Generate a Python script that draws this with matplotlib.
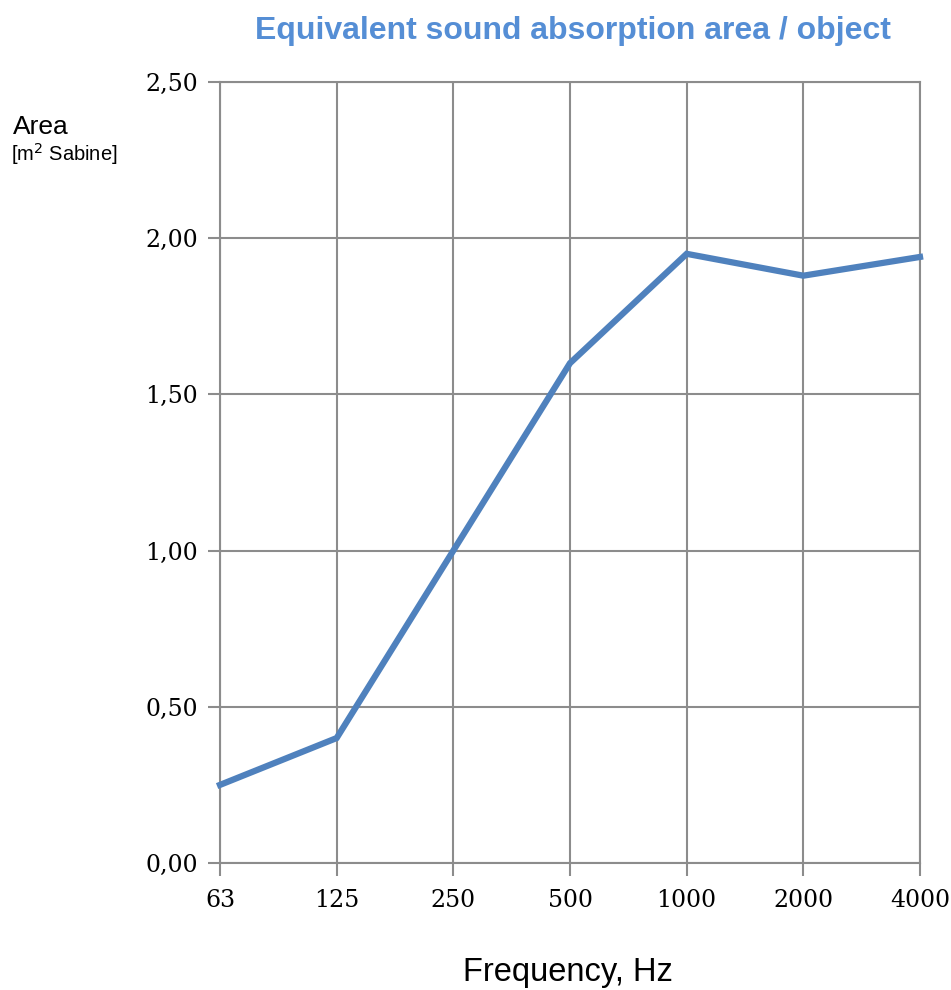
import matplotlib
matplotlib.use('Agg')
import matplotlib.pyplot as plt

# data
freqs = ['63', '125', '250', '500', '1000', '2000', '4000']
area = [0.25, 0.40, 1.00, 1.60, 1.95, 1.88, 1.94]
yticks = [0.0, 0.5, 1.0, 1.5, 2.0, 2.5]

LINE = '#4f81bd'
GRID = '#8c8c8c'
TITLE = '#558ed5'

fig = plt.figure(figsize=(9.51, 9.9), dpi=100)
ax = fig.add_axes([220 / 951, 1 - 863 / 990, 700 / 951, (863 - 82) / 990])

x = list(range(len(freqs)))
ax.plot(x, area, color=LINE, lw=4.5, solid_joinstyle='miter', zorder=3, clip_on=False)

ax.set_xlim(0, len(freqs) - 1)
ax.set_ylim(0, 2.5)
ax.set_xticks(x)
ax.set_xticklabels(freqs)
ax.set_yticks(yticks)
ax.set_yticklabels([f'{v:.2f}'.replace('.', ',') for v in yticks])

ax.grid(True, color=GRID, lw=1.5, zorder=1)
for s in ax.spines.values():
    s.set_color(GRID)
    s.set_linewidth(1.5)
ax.tick_params(colors=GRID, length=9, width=1.5, pad=7)
for lab in ax.get_xticklabels() + ax.get_yticklabels():
    lab.set_family('DejaVu Serif')
    lab.set_fontsize(17)
    lab.set_color('black')
ax.tick_params(axis='x', pad=10)

fig.text(573 / 951, 1 - 31 / 990, 'Equivalent sound absorption area / object',
         ha='center', va='center', fontsize=23, fontweight='bold', color=TITLE,
         family='Liberation Sans')
fig.text(568 / 951, 1 - 972 / 990, 'Frequency, Hz', ha='center', va='center',
         fontsize=23.5, family='Liberation Sans')
fig.text(13 / 951, 1 - 127 / 990, 'Area', ha='left', va='center',
         fontsize=19, family='Liberation Sans')
fig.text(11 / 951, 1 - 154 / 990, r'[m$^{2}$ Sabine]', ha='left', va='center',
         fontsize=14.5, family='Liberation Sans')

fig.savefig('out.png', dpi=100)
